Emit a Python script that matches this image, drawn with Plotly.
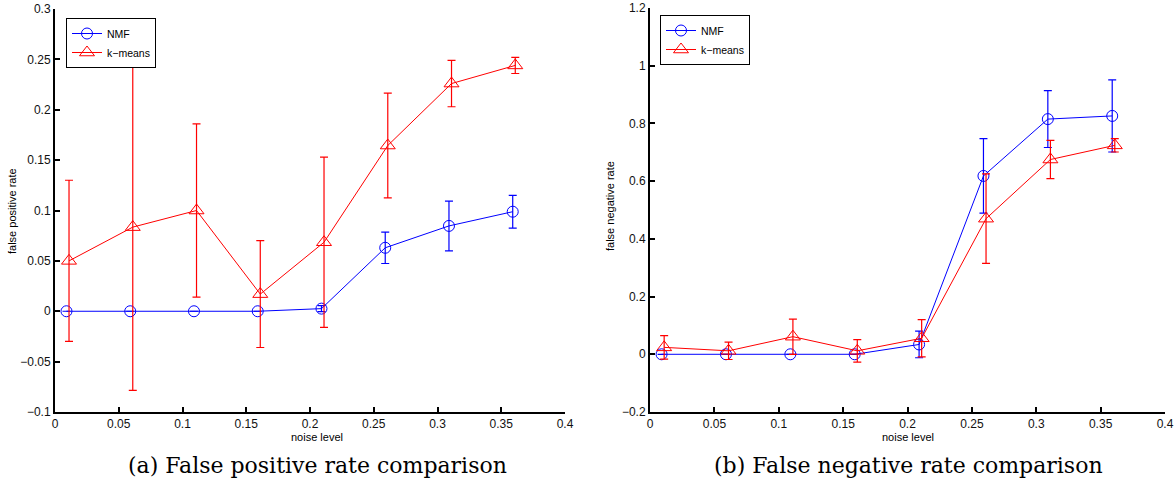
import plotly.graph_objects as go

# Noise levels shared by both experiments
noise_levels = [0.01, 0.06, 0.11, 0.16, 0.21, 0.26, 0.31, 0.36]

# (a) false positive rate: mean and standard deviation
fp_nmf = [0.0, 0.0, 0.0, 0.0, 0.0026, 0.063, 0.0847, 0.0988]
fp_nmf_err = [0.0, 0.0, 0.0, 0.0, 0.003, 0.0156, 0.0247, 0.0162]
fp_kmeans = [0.05, 0.0835, 0.100, 0.017, 0.0685, 0.1645, 0.226, 0.244]
fp_kmeans_err = [0.08, 0.162, 0.086, 0.053, 0.0845, 0.052, 0.023, 0.008]

# (b) false negative rate: mean and standard deviation
fn_nmf = [0.0, 0.0, 0.0, 0.0, 0.034, 0.618, 0.815, 0.826]
fn_nmf_err = [0.0, 0.0, 0.0, 0.0, 0.046, 0.129, 0.0985, 0.125]
fn_kmeans = [0.024, 0.012, 0.061, 0.012, 0.0555, 0.47, 0.675, 0.724]
fn_kmeans_err = [0.041, 0.03, 0.061, 0.039, 0.0645, 0.155, 0.066, 0.023]

# small horizontal shift so the two series' error bars do not overlap
shift = 0.001

BLUE = "#0000ff"
RED = "#ff0000"
W, H = 1175, 480


def px_x(p):
    return p / W


def px_y(p):
    return 1 - p / H


fig = go.Figure()


def add_series(x, y, err, name, color, symbol, size, xa, ya, legend):
    fig.add_trace(go.Scatter(
        x=x, y=y, name=name, mode="lines+markers",
        line=dict(color=color, width=1),
        marker=dict(symbol=symbol, size=size, color=color,
                    line=dict(color=color, width=1)),
        error_y=dict(type="data", array=err, color=color,
                     thickness=1.2, width=4),
        xaxis=xa, yaxis=ya, legend=legend, showlegend=True,
    ))


x_nmf = [v - shift for v in noise_levels]
x_km = [v + shift for v in noise_levels]

add_series(x_nmf, fp_nmf, fp_nmf_err, "NMF", BLUE, "circle-open", 11, "x", "y", "legend")
add_series(x_km, fp_kmeans, fp_kmeans_err, "k\u2212means", RED, "triangle-up-open", 13, "x", "y", "legend")
add_series(x_nmf, fn_nmf, fn_nmf_err, "NMF", BLUE, "circle-open", 11, "x2", "y2", "legend2")
add_series(x_km, fn_kmeans, fn_kmeans_err, "k\u2212means", RED, "triangle-up-open", 13, "x2", "y2", "legend2")

tick_font = dict(family="Liberation Sans, Arial, sans-serif", size=12, color="#111")
axis_common = dict(
    showline=True, linecolor="black", linewidth=2,
    ticks="inside", ticklen=5, tickwidth=2, tickcolor="black",
    showgrid=False, zeroline=False, tickfont=tick_font, mirror=False,
    automargin=False, ticklabeloverflow="allow",
)

legend_font = dict(family="Liberation Sans, Arial, sans-serif", size=10.5, color="black")

fig.update_layout(
    width=W, height=H,
    margin=dict(l=0, r=0, t=0, b=0, pad=0),
    paper_bgcolor="white", plot_bgcolor="white",
    xaxis=dict(domain=[px_x(55), px_x(565)], range=[0, 0.4], dtick=0.05,
               anchor="y", **axis_common),
    yaxis=dict(domain=[px_y(412), px_y(9)], range=[-0.1, 0.3], dtick=0.05,
               anchor="x", **axis_common),
    xaxis2=dict(domain=[px_x(650), px_x(1165)], range=[0, 0.4], dtick=0.05,
                anchor="y2", **axis_common),
    yaxis2=dict(domain=[px_y(412), px_y(8)], range=[-0.2, 1.2], dtick=0.2,
                anchor="x2", **axis_common),
    legend=dict(x=px_x(66), y=px_y(18), xanchor="left", yanchor="top",
                bordercolor="black", borderwidth=1, bgcolor="white",
                font=legend_font, tracegroupgap=0, itemwidth=30),
    legend2=dict(x=px_x(660), y=px_y(15), xanchor="left", yanchor="top",
                 bordercolor="black", borderwidth=1, bgcolor="white",
                 font=legend_font, tracegroupgap=0, itemwidth=30),
)

label_font = dict(family="Liberation Sans, Arial, sans-serif", size=11, color="black")
caption_font = dict(family="DejaVu Serif, serif", size=22, color="black")

annotations = [
    dict(text="noise level", x=px_x(317), y=px_y(437), font=label_font),
    dict(text="noise level", x=px_x(908), y=px_y(437), font=label_font),
    dict(text="false positive rate", x=px_x(12), y=px_y(211), textangle=-90, font=label_font),
    dict(text="false negative rate", x=px_x(610), y=px_y(206), textangle=-90, font=label_font),
    dict(text="(a) False positive rate comparison", x=px_x(317), y=px_y(465), font=caption_font),
    dict(text="(b) False negative rate comparison", x=px_x(908), y=px_y(465), font=caption_font),
]
for a in annotations:
    fig.add_annotation(xref="paper", yref="paper", showarrow=False,
                       xanchor="center", yanchor="middle", **a)

fig.write_html("out.html")
